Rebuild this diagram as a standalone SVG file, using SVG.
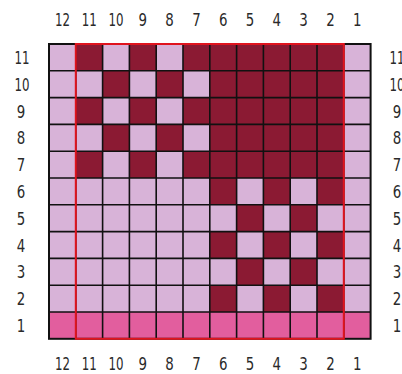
<svg xmlns="http://www.w3.org/2000/svg" width="402" height="374" viewBox="0 0 402 374">
<style>
.L{fill:#D8B3D8}
.D{fill:#8B1A33}
.P{fill:#E25E9E}
.grid{fill:none;stroke:#111;stroke-width:1.6}
.frame{fill:none;stroke:#111;stroke-width:2}
.red{fill:none;stroke:#E0141E;stroke-width:2}
text{font-family:"DejaVu Sans Condensed","Liberation Sans",sans-serif;font-stretch:condensed;font-size:17.5px;fill:#2a2a2a;text-anchor:middle}
</style>
<rect width="402" height="374" fill="#fff"/>
<g id="chart">
<rect class="L" x="49" y="44" width="321.6" height="294.8"/>
<rect class="P" x="49" y="312" width="321.6" height="26.8"/>
<rect class="D" x="209.8" y="44" width="134" height="134"/>
<g id="dark-cells">
<rect class="D" x="183" y="44" width="26.8" height="26.8"/>
<rect class="D" x="183" y="97.6" width="26.8" height="26.8"/>
<rect class="D" x="183" y="151.2" width="26.8" height="26.8"/>
<rect class="D" x="75.8" y="44" width="26.8" height="26.8"/>
<rect class="D" x="75.8" y="97.6" width="26.8" height="26.8"/>
<rect class="D" x="75.8" y="151.2" width="26.8" height="26.8"/>
<rect class="D" x="129.4" y="44" width="26.8" height="26.8"/>
<rect class="D" x="129.4" y="97.6" width="26.8" height="26.8"/>
<rect class="D" x="129.4" y="151.2" width="26.8" height="26.8"/>
<rect class="D" x="102.6" y="70.8" width="26.8" height="26.8"/>
<rect class="D" x="102.6" y="124.4" width="26.8" height="26.8"/>
<rect class="D" x="156.2" y="70.8" width="26.8" height="26.8"/>
<rect class="D" x="156.2" y="124.4" width="26.8" height="26.8"/>
<rect class="D" x="209.8" y="178" width="26.8" height="26.8"/>
<rect class="D" x="263.4" y="178" width="26.8" height="26.8"/>
<rect class="D" x="317" y="178" width="26.8" height="26.8"/>
<rect class="D" x="209.8" y="231.6" width="26.8" height="26.8"/>
<rect class="D" x="263.4" y="231.6" width="26.8" height="26.8"/>
<rect class="D" x="317" y="231.6" width="26.8" height="26.8"/>
<rect class="D" x="209.8" y="285.2" width="26.8" height="26.8"/>
<rect class="D" x="263.4" y="285.2" width="26.8" height="26.8"/>
<rect class="D" x="317" y="285.2" width="26.8" height="26.8"/>
<rect class="D" x="236.6" y="204.8" width="26.8" height="26.8"/>
<rect class="D" x="290.2" y="204.8" width="26.8" height="26.8"/>
<rect class="D" x="236.6" y="258.4" width="26.8" height="26.8"/>
<rect class="D" x="290.2" y="258.4" width="26.8" height="26.8"/>
</g>
<path class="grid" d="M75.8 44V338.8M102.6 44V338.8M129.4 44V338.8M156.2 44V338.8M183 44V338.8M209.8 44V338.8M236.6 44V338.8M263.4 44V338.8M290.2 44V338.8M317 44V338.8M343.8 44V338.8M49 70.8H370.6M49 97.6H370.6M49 124.4H370.6M49 151.2H370.6M49 178H370.6M49 204.8H370.6M49 231.6H370.6M49 258.4H370.6M49 285.2H370.6M49 312H370.6"/>
<rect class="frame" x="49" y="44" width="321.6" height="294.8"/>
<rect class="red" x="75.8" y="44" width="268" height="294.8"/>
</g>
<g id="top-labels">
<text x="62.4" y="26" textLength="15" lengthAdjust="spacingAndGlyphs">12</text><text x="89.2" y="26" textLength="15" lengthAdjust="spacingAndGlyphs">11</text><text x="116" y="26" textLength="15" lengthAdjust="spacingAndGlyphs">10</text><text x="142.8" y="26" textLength="8.5" lengthAdjust="spacingAndGlyphs">9</text><text x="169.6" y="26" textLength="8.5" lengthAdjust="spacingAndGlyphs">8</text><text x="196.4" y="26" textLength="8.5" lengthAdjust="spacingAndGlyphs">7</text><text x="223.2" y="26" textLength="8.5" lengthAdjust="spacingAndGlyphs">6</text><text x="250" y="26" textLength="8.5" lengthAdjust="spacingAndGlyphs">5</text><text x="276.8" y="26" textLength="8.5" lengthAdjust="spacingAndGlyphs">4</text><text x="303.6" y="26" textLength="8.5" lengthAdjust="spacingAndGlyphs">3</text><text x="330.4" y="26" textLength="8.5" lengthAdjust="spacingAndGlyphs">2</text><text x="357.2" y="26" textLength="8.5" lengthAdjust="spacingAndGlyphs">1</text>
</g>
<g id="bottom-labels">
<text x="62.4" y="370" textLength="15" lengthAdjust="spacingAndGlyphs">12</text><text x="89.2" y="370" textLength="15" lengthAdjust="spacingAndGlyphs">11</text><text x="116" y="370" textLength="15" lengthAdjust="spacingAndGlyphs">10</text><text x="142.8" y="370" textLength="8.5" lengthAdjust="spacingAndGlyphs">9</text><text x="169.6" y="370" textLength="8.5" lengthAdjust="spacingAndGlyphs">8</text><text x="196.4" y="370" textLength="8.5" lengthAdjust="spacingAndGlyphs">7</text><text x="223.2" y="370" textLength="8.5" lengthAdjust="spacingAndGlyphs">6</text><text x="250" y="370" textLength="8.5" lengthAdjust="spacingAndGlyphs">5</text><text x="276.8" y="370" textLength="8.5" lengthAdjust="spacingAndGlyphs">4</text><text x="303.6" y="370" textLength="8.5" lengthAdjust="spacingAndGlyphs">3</text><text x="330.4" y="370" textLength="8.5" lengthAdjust="spacingAndGlyphs">2</text><text x="357.2" y="370" textLength="8.5" lengthAdjust="spacingAndGlyphs">1</text>
</g>
<g id="left-labels">
<text x="22" y="64" textLength="15" lengthAdjust="spacingAndGlyphs">11</text><text x="22" y="90.8" textLength="15" lengthAdjust="spacingAndGlyphs">10</text><text x="21" y="117.6" textLength="8.5" lengthAdjust="spacingAndGlyphs">9</text><text x="21" y="144.4" textLength="8.5" lengthAdjust="spacingAndGlyphs">8</text><text x="21" y="171.2" textLength="8.5" lengthAdjust="spacingAndGlyphs">7</text><text x="21" y="198" textLength="8.5" lengthAdjust="spacingAndGlyphs">6</text><text x="21" y="224.8" textLength="8.5" lengthAdjust="spacingAndGlyphs">5</text><text x="21" y="251.6" textLength="8.5" lengthAdjust="spacingAndGlyphs">4</text><text x="21" y="278.4" textLength="8.5" lengthAdjust="spacingAndGlyphs">3</text><text x="21" y="305.2" textLength="8.5" lengthAdjust="spacingAndGlyphs">2</text><text x="21" y="332" textLength="8.5" lengthAdjust="spacingAndGlyphs">1</text>
</g>
<g id="right-labels">
<text x="397" y="64" textLength="15" lengthAdjust="spacingAndGlyphs">11</text><text x="397" y="90.8" textLength="15" lengthAdjust="spacingAndGlyphs">10</text><text x="397" y="117.6" textLength="8.5" lengthAdjust="spacingAndGlyphs">9</text><text x="397" y="144.4" textLength="8.5" lengthAdjust="spacingAndGlyphs">8</text><text x="397" y="171.2" textLength="8.5" lengthAdjust="spacingAndGlyphs">7</text><text x="397" y="198" textLength="8.5" lengthAdjust="spacingAndGlyphs">6</text><text x="397" y="224.8" textLength="8.5" lengthAdjust="spacingAndGlyphs">5</text><text x="397" y="251.6" textLength="8.5" lengthAdjust="spacingAndGlyphs">4</text><text x="397" y="278.4" textLength="8.5" lengthAdjust="spacingAndGlyphs">3</text><text x="397" y="305.2" textLength="8.5" lengthAdjust="spacingAndGlyphs">2</text><text x="397" y="332" textLength="8.5" lengthAdjust="spacingAndGlyphs">1</text>
</g>
</svg>
